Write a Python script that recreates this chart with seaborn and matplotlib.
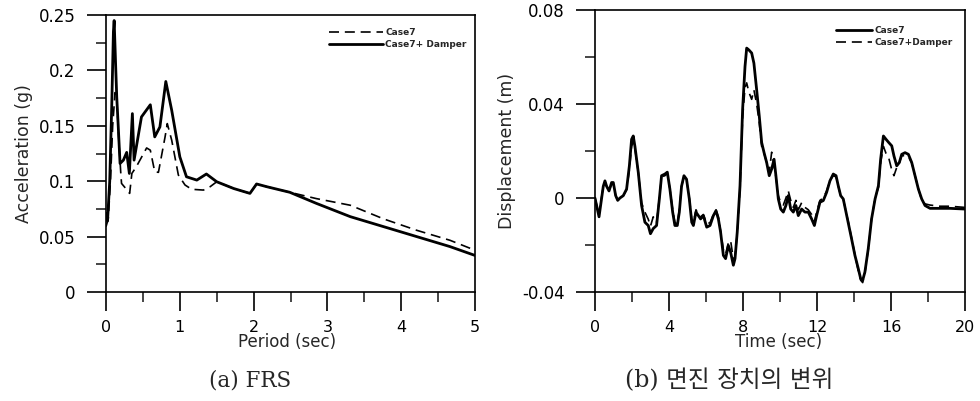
import matplotlib
matplotlib.use("Agg")
import matplotlib.pyplot as plt
import seaborn as sns
from matplotlib.ticker import FixedLocator, MultipleLocator

# (a) FRS - floor response spectrum
period_case7 = [0, 0.03, 0.06, 0.09, 0.122, 0.145, 0.17, 0.2, 0.21, 0.26,
                0.32, 0.35, 0.41, 0.55, 0.6, 0.66, 0.71, 0.8, 0.83, 0.89,
                0.98, 1.07, 1.16, 1.32, 1.41, 1.5, 1.73, 1.95, 2.04, 2.18,
                2.49, 2.85, 3.31, 3.76, 4.21, 4.66, 5.0]
acc_case7 = [0.059, 0.066, 0.10, 0.15, 0.18, 0.176, 0.14, 0.107, 0.098, 0.094,
             0.089, 0.107, 0.113, 0.130, 0.128, 0.1085, 0.108, 0.14, 0.152, 0.137,
             0.1056, 0.0966, 0.0927, 0.092, 0.095, 0.0995, 0.0934, 0.089, 0.0975, 0.095,
             0.090, 0.0843, 0.0783, 0.066, 0.0557, 0.0467, 0.0377]

period_damper = [0, 0.02, 0.05, 0.077, 0.1, 0.11, 0.13, 0.145, 0.165, 0.19,
                 0.235, 0.28, 0.316, 0.357, 0.38, 0.48, 0.6, 0.66, 0.73, 0.81,
                 0.89, 1.0, 1.09, 1.23, 1.36, 1.5, 1.73, 1.95, 2.04, 2.18,
                 2.49, 2.85, 3.31, 3.76, 4.21, 4.66, 5.0]
acc_damper = [0.071, 0.064, 0.10, 0.167, 0.235, 0.245, 0.205, 0.176, 0.15, 0.116,
              0.119, 0.126, 0.107, 0.161, 0.119, 0.158, 0.169, 0.14, 0.149, 0.19,
              0.164, 0.122, 0.104, 0.101, 0.1065, 0.0995, 0.0934, 0.089, 0.0975, 0.095,
              0.090, 0.080, 0.068, 0.059, 0.050, 0.041, 0.033]

# (b) isolator displacement time history
time_sec = [0, 0.13, 0.22, 0.31, 0.45, 0.54, 0.63, 0.76, 0.9, 0.99,
            1.12, 1.23, 1.35, 1.53, 1.71, 1.86, 1.98, 2.07, 2.16, 2.34,
            2.52, 2.7, 2.88, 3.0, 3.15, 3.33, 3.48, 3.6, 3.78, 3.91,
            4.05, 4.2, 4.32, 4.45, 4.56, 4.68, 4.81, 4.95, 5.1, 5.23,
            5.32, 5.46, 5.59, 5.71, 5.86, 6.04, 6.22, 6.4, 6.54, 6.67,
            6.79, 6.94, 7.06, 7.21, 7.33, 7.48, 7.57, 7.69, 7.84, 7.98,
            8.11, 8.2, 8.32, 8.47, 8.59, 8.74, 8.88, 9.01, 9.14, 9.28,
            9.42, 9.55, 9.68, 9.78, 9.91, 10.04, 10.18, 10.32, 10.45, 10.58,
            10.72, 10.86, 10.99, 11.17, 11.35, 11.53, 11.71, 11.86, 11.98, 12.16,
            12.34, 12.52, 12.7, 12.88, 13.03, 13.15, 13.28, 13.42, 13.57, 13.69,
            13.87, 14.05, 14.23, 14.36, 14.47, 14.59, 14.77, 14.95, 15.14, 15.32,
            15.44, 15.59, 15.73, 15.88, 16.04, 16.16, 16.31, 16.45, 16.58, 16.76,
            16.94, 17.12, 17.3, 17.48, 17.66, 17.84, 18.11, 18.65, 19.19, 20]
disp_case7 = [0, -0.0047, -0.008, -0.003, 0.005, 0.0073, 0.005, 0.003, 0.0066, 0.0066,
              0.001, -0.001, 0, 0.001, 0.0038, 0.0137, 0.025, 0.0264, 0.022, 0.011,
              -0.0032, -0.0103, -0.0117, -0.0152, -0.013, -0.0117, -0.0004, 0.0095, 0.0102, 0.011,
              0.0038, -0.006, -0.0117, -0.0117, -0.006, 0.005, 0.0095, 0.008, -0.0004, -0.0103,
              -0.0117, -0.006, -0.0075, -0.0089, -0.0075, -0.0124, -0.0117, -0.0075, -0.0054, -0.0089,
              -0.0145, -0.0244, -0.0258, -0.0202, -0.023, -0.0286, -0.0258, -0.0145, 0.0052, 0.0377,
              0.056, 0.0638, 0.063, 0.0617, 0.0574, 0.046, 0.0349, 0.0236, 0.0193, 0.0151,
              0.0095, 0.0123, 0.0165, 0.0095, -0.0004, -0.0047, -0.006, -0.0032, 0.001, -0.0047,
              -0.006, -0.0032, -0.0075, -0.0047, -0.006, -0.006, -0.0089, -0.0117, -0.0075, -0.0018,
              -0.0011, 0.0024, 0.0073, 0.0102, 0.0095, 0.0052, 0.001, -0.0004, -0.006, -0.0103,
              -0.0174, -0.0244, -0.03, -0.0343, -0.035, -0.0315, -0.0216, -0.0089, -0.0004, 0.0052,
              0.0165, 0.0264, 0.025, 0.0236, 0.0222, 0.0179, 0.0137, 0.0151, 0.0186, 0.0193,
              0.0186, 0.0151, 0.0095, 0.0038, -0.0004, -0.0032, -0.0044, -0.0044, -0.0044, -0.0047]
disp_damper = [0, -0.004, -0.007, -0.002, 0.005, 0.007, 0.005, 0.003, 0.006, 0.006,
               0.001, -0.001, 0, 0.001, 0.0035, 0.012, 0.022, 0.024, 0.021, 0.011,
               -0.002, -0.006, -0.009, -0.012, -0.008, -0.0105, 0.0, 0.009, 0.0095, 0.0105,
               0.004, -0.005, -0.0105, -0.011, -0.005, 0.005, 0.009, 0.0075, 0.0, -0.009,
               -0.0105, -0.005, -0.007, -0.008, -0.007, -0.011, -0.0105, -0.007, -0.005, -0.008,
               -0.014, -0.022, -0.024, -0.019, -0.018, -0.026, -0.025, -0.015, 0.004, 0.034,
               0.047, 0.049, 0.045, 0.042, 0.046, 0.040, 0.032, 0.022, 0.019, 0.015,
               0.011, 0.0195, 0.014, 0.009, 0.001, -0.002, -0.003, 0.0, 0.003, -0.001,
               -0.004, -0.001, -0.005, -0.002, -0.004, -0.005, -0.007, -0.010, -0.006, -0.001,
               0.0, 0.003, 0.0075, 0.0095, 0.009, 0.005, 0.001, -0.0004, -0.006, -0.010,
               -0.017, -0.024, -0.031, -0.035, -0.036, -0.032, -0.022, -0.009, 0.0, 0.0045,
               0.015, 0.022, 0.019, 0.017, 0.012, 0.0095, 0.013, 0.015, 0.018, 0.018,
               0.0175, 0.015, 0.0095, 0.004, -0.001, -0.0025, -0.003, -0.0035, -0.0035, -0.004]

frs_yticks = [0, 0.05, 0.1, 0.15, 0.2, 0.25]
frs_ylabels = ["0", "0.05", "0.1", "0.15", "0.2", "0.25"]
frs_xticks = [0, 1, 2, 3, 4, 5]
disp_yticks = [-0.04, 0, 0.04, 0.08]
disp_ylabels = ["-0.04", "0", "0.04", "0.08"]
disp_xticks = [0, 4, 8, 12, 16, 20]

sns.set_style("ticks")
plt.rcParams["font.family"] = ["DejaVu Sans", "Noto Sans CJK KR"]

fig = plt.figure(figsize=(9.8, 4.01), dpi=100)
ax1 = fig.add_axes([0.1082, 0.2718, 0.3765, 0.6908])
ax2 = fig.add_axes([0.6071, 0.2718, 0.3776, 0.7032])

dash = (0, (6, 3.5))

# left: FRS
sns.lineplot(x=period_case7, y=acc_case7, ax=ax1, color="black", linewidth=1.2,
             linestyle=dash, label="Case7")
sns.lineplot(x=period_damper, y=acc_damper, ax=ax1, color="black", linewidth=2.0,
             label="Case7+ Damper")
ax1.set_xlim(0, 5)
ax1.set_ylim(0, 0.25)
ax1.yaxis.set_major_locator(FixedLocator(frs_yticks))
ax1.set_yticklabels(frs_ylabels)
ax1.yaxis.set_minor_locator(MultipleLocator(0.025))
ax1.xaxis.set_major_locator(FixedLocator(frs_xticks))
ax1.xaxis.set_minor_locator(MultipleLocator(0.5))
ax1.set_ylabel("Acceleration (g)", fontsize=12.5, labelpad=4)
ax1.set_xlabel("Period (sec)", fontsize=12)
ax1.xaxis.set_label_coords(0.49, -0.148)

# right: displacement
sns.lineplot(x=time_sec, y=disp_damper, ax=ax2, color="black", linewidth=1.2,
             linestyle=dash, label="Case7+Damper", sort=False)
sns.lineplot(x=time_sec, y=disp_case7, ax=ax2, color="black", linewidth=2.0,
             label="Case7", sort=False)
ax2.set_xlim(0, 20)
ax2.set_ylim(-0.04, 0.08)
ax2.yaxis.set_major_locator(FixedLocator(disp_yticks))
ax2.set_yticklabels(disp_ylabels)
ax2.yaxis.set_minor_locator(MultipleLocator(0.02))
ax2.xaxis.set_major_locator(FixedLocator(disp_xticks))
ax2.xaxis.set_minor_locator(MultipleLocator(2))
ax2.set_ylabel("Displacement (m)", fontsize=12.5, labelpad=4)
ax2.set_xlabel("Time (sec)", fontsize=12)
ax2.xaxis.set_label_coords(0.497, -0.146)

for ax in (ax1, ax2):
    for sp in ax.spines.values():
        sp.set_linewidth(1.2)
        sp.set_color("black")
    ax.tick_params(which="major", direction="out", length=14, width=1.2,
                   labelsize=12, colors="black")
    ax.tick_params(axis="y", which="major", pad=8)
    ax.tick_params(axis="x", which="major", pad=6, labelsize=11.5)
    ax.tick_params(which="minor", direction="out", length=7, width=1.2)

# legends
h1, l1 = ax1.get_legend_handles_labels()
ax1.legend(h1, l1, loc="upper right", bbox_to_anchor=(0.995, 0.975), frameon=False,
           prop={"size": 6.5, "weight": "bold"}, handlelength=6.0,
           handletextpad=0.3, labelspacing=0.3, borderaxespad=0.3)
h2, l2 = ax2.get_legend_handles_labels()
ax2.legend([h2[1], h2[0]], [l2[1], l2[0]], loc="upper right", bbox_to_anchor=(0.985, 0.965),
           frameon=False, prop={"size": 6.5, "weight": "bold"}, handlelength=4.0,
           handletextpad=0.3, labelspacing=0.3, borderaxespad=0.3)

# captions
fig.text(0.255, 0.052, "(a) FRS", ha="center", va="center", fontsize=15.5,
         family=["DejaVu Serif", "Noto Sans CJK KR"])
fig.text(0.744, 0.052, "(b) 면진 장치의 변위", ha="center", va="center", fontsize=17,
         family=["DejaVu Serif", "Noto Sans CJK KR"])

fig.savefig("out.png", dpi=100)
